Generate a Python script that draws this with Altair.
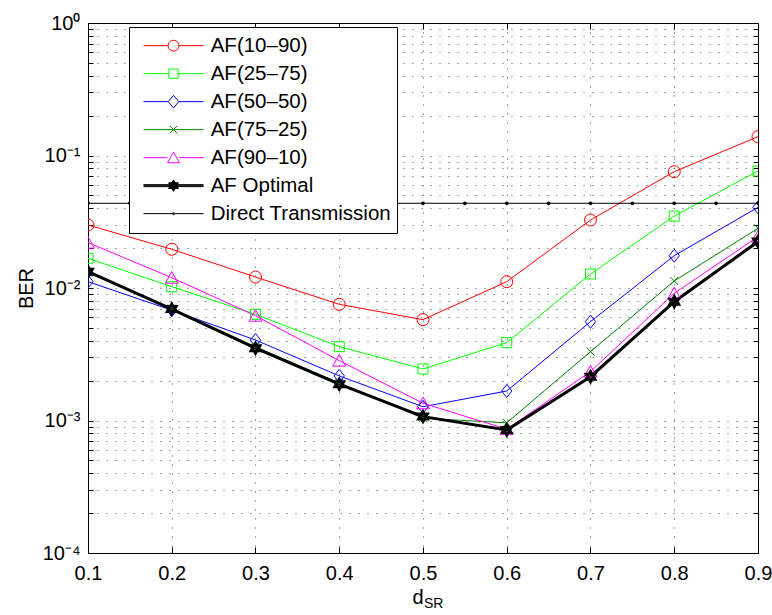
import math
import altair as alt
import pandas as pd

# ---------------- data ----------------
d_sr = [0.1, 0.2, 0.3, 0.4, 0.5, 0.6, 0.7, 0.8, 0.9]
af_10_90 = [0.0299, 0.0196, 0.0121, 0.00753, 0.00577, 0.01116, 0.0326, 0.0755, 0.1387]
af_25_75 = [0.01676, 0.01023, 0.00633, 0.00361, 0.00245, 0.00387, 0.01276, 0.0349, 0.0764]
af_50_50 = [0.01116, 0.0068, 0.00405, 0.00217, 0.00127, 0.00167, 0.00557, 0.01754, 0.0406]
af_75_25 = [0.0131, 0.0070, 0.0036, 0.00192, 0.00104, 0.00096, 0.00331, 0.0113, 0.0282]
af_90_10 = [0.0220, 0.01197, 0.00618, 0.00283, 0.00135, 0.00086, 0.00234, 0.00912, 0.0244]
af_optimal = [0.01328, 0.00694, 0.00351, 0.00188, 0.00107, 0.000848, 0.00214, 0.00788, 0.0224]
d_sr_direct = [0.1, 0.15, 0.2, 0.25, 0.3, 0.35, 0.4, 0.45, 0.5,
               0.55, 0.6, 0.65, 0.7, 0.75, 0.8, 0.85, 0.9]
direct = [0.0436, 0.0436, 0.0436, 0.0436, 0.0436, 0.0436, 0.0436, 0.0436, 0.0436,
          0.0436, 0.0436, 0.0436, 0.0436, 0.0436, 0.0436, 0.0436, 0.0436]

names = ["AF(10–90)", "AF(25–75)", "AF(50–50)", "AF(75–25)", "AF(90–10)",
         "AF Optimal", "Direct Transmission"]
x_ticks = [0.1, 0.2, 0.3, 0.4, 0.5, 0.6, 0.7, 0.8, 0.9]
y_decades = [1e-4, 1e-3, 1e-2, 1e-1, 1.0]
y_labels = ["10⁻⁴", "10⁻³", "10⁻²", "10⁻¹", "10⁰"]

rows = []
for name, vals in zip(names[:6], [af_10_90, af_25_75, af_50_50, af_75_25, af_90_10, af_optimal]):
    for x, v in zip(d_sr, vals):
        rows.append({"series": name, "d": x, "ber": v})
for x, v in zip(d_sr_direct, direct):
    rows.append({"series": names[6], "d": x, "ber": v})
df = pd.DataFrame(rows)

# ---------------- styles ----------------
FONT = "Liberation Sans"
colors = ["#ff0000", "#00ff00", "#0000ff", "#008000", "#ff00ff", "#000000", "#000000"]
line_w = [1, 1, 1, 1, 1, 3, 1]


def poly_circle(r, n=20):
    pts = []
    for i in range(n):
        a = 2 * math.pi * i / n
        pts.append(f"{r * math.cos(a):.4f},{r * math.sin(a):.4f}")
    return "M" + "L".join(pts) + "Z"


def hexa(s):
    return (f"M0,{-s:.4f}L{0.866 * s:.4f},{0.5 * s:.4f}L{-0.866 * s:.4f},{0.5 * s:.4f}Z"
            f"M0,{s:.4f}L{-0.866 * s:.4f},{-0.5 * s:.4f}L{0.866 * s:.4f},{-0.5 * s:.4f}Z")


marker_shapes = [
    "circle",
    "square",
    "M0,-1L0.8,0L0,1L-0.8,0Z",
    "M-1,-1L1,1M-1,1L1,-1",
    "M0,-0.95L1,0.85L-1,0.85Z",
    hexa(1.0),
    "circle",
]
marker_sizes = [144, 100, 169, 64, 169, 121, 3]
marker_sw = [1, 1, 1, 1, 1, 2.5, 2]


def legend_path(marker, gap):
    line = f"M-1,0L{-gap:.3f},0M{gap:.3f},0L1,0" if gap > 0 else "M-1,0L1,0"
    return line + marker


thick_line = "M-1,-0.0333L1,-0.0333M-1,0L1,0M-1,0.0333L1,0.0333"
legend_shapes = [
    legend_path(poly_circle(0.18), 0.18),
    legend_path("M-0.155,-0.155L0.155,-0.155L0.155,0.155L-0.155,0.155Z", 0.155),
    legend_path("M0,-0.21L0.175,0L0,0.21L-0.175,0Z", 0.175),
    legend_path("M-0.13,-0.13L0.13,0.13M-0.13,0.13L0.13,-0.13", 0),
    legend_path("M0,-0.19L0.2,0.17L-0.2,0.17Z", 0.2),
    thick_line + hexa(0.19) + hexa(0.16) + hexa(0.13) + hexa(0.10) + hexa(0.07),
    legend_path(poly_circle(0.035, 10), 0),
]

x_scale = alt.Scale(domain=[0.1, 0.9], nice=False, zero=False)
y_scale = alt.Scale(type="log", domain=[1e-4, 1], nice=False)

y_minor = []
for k in range(-4, 0):
    for m in range(1, 10):
        y_minor.append(m * 10 ** k)
y_minor.append(1.0)

label_expr = " : ".join(
    f"abs(datum.value - {v}) < {v * 1e-6} ? '{l}'" for v, l in zip(y_decades, y_labels)
) + " : ''"

x_axis = alt.Axis(
    values=x_ticks, format=".1f", grid=True, gridDash=[1, 8], gridColor="black",
    gridOpacity=0.7, tickSize=0, domain=False, labelPadding=10.5, labelFlush=False,
    labelFontSize=20, labelFont=FONT, labelColor="black",
    title="d", titleFont=FONT, titleFontSize=20, titleFontWeight="normal",
    titleColor="black", titleAlign="left", titleAnchor="start",
    titleX=324, titleY=50, titleBaseline="alphabetic",
)
y_axis = alt.Axis(
    values=y_minor, labelExpr=label_expr, grid=True, gridDash=[1, 8],
    gridColor="black", gridOpacity=0.7, tickSize=0, domain=False,
    labelPadding=8, labelFlush=False, labelFontSize=20, labelFont=FONT,
    labelColor="black", labelOverlap=False,
    title="BER", titleFont=FONT, titleFontSize=20, titleFontWeight="normal",
    titleColor="black", titleX=-56, titleY=265, titleAngle=-90,
    titleBaseline="alphabetic", titleAlign="center",
)


def tick_axis(orient, values, size):
    return alt.Axis(orient=orient, offset=-size, tickSize=size, values=values,
                    labels=False, domain=False, grid=False, title=None,
                    ticks=True, tickColor="black", tickWidth=1)


def cat_scale(rng):
    return alt.Scale(type="ordinal", domain=names, range=rng)


base = alt.Chart(df)

lines = base.mark_line(clip=True).encode(
    x=alt.X("d:Q", scale=x_scale, axis=x_axis),
    y=alt.Y("ber:Q", scale=y_scale, axis=y_axis),
    color=alt.Color("series:N", scale=alt.Scale(domain=names, range=colors), legend=None),
    strokeWidth=alt.StrokeWidth("series:N", scale=cat_scale(line_w), legend=None),
    order=alt.Order("d:Q"),
)

points = base.mark_point(filled=False, opacity=1, clip=True).encode(
    x=alt.X("d:Q", scale=x_scale, axis=None),
    y=alt.Y("ber:Q", scale=y_scale, axis=None),
    color=alt.Color("series:N", scale=alt.Scale(domain=names, range=colors), legend=None),
    shape=alt.Shape("series:N", scale=alt.Scale(domain=names, range=marker_shapes), legend=None),
    size=alt.Size("series:N", scale=cat_scale(marker_sizes), legend=None),
    strokeWidth=alt.StrokeWidth("series:N", scale=cat_scale(marker_sw), legend=None),
)

leg = alt.Legend(
    title=None, orient="none", legendX=41, legendY=4, direction="vertical",
    symbolSize=3600, clipHeight=27.3, rowPadding=0, padding=5,
    symbolOffset=9, labelOffset=6.7, labelFontSize=20.5, labelFont=FONT,
    labelColor="black", labelLimit=400, strokeColor="black", fillColor="white",
    cornerRadius=0, symbolOpacity=1, symbolFillColor="transparent",
    symbolStrokeWidth=1,
)

legend_layer = base.mark_point(filled=False, opacity=1).encode(
    x=alt.X("d:Q", scale=x_scale, axis=None),
    y=alt.Y("ber:Q", scale=y_scale, axis=None),
    color=alt.Color("series:N", scale=alt.Scale(domain=names, range=colors), legend=leg),
    shape=alt.Shape("series:N", scale=alt.Scale(domain=names, range=legend_shapes), legend=leg),
).transform_filter("datum.d < 0")

# inward tick marks on all four sides (MATLAB box style)
hidden = base.mark_point(opacity=0)
ticks_left = hidden.encode(x=alt.X("d:Q", scale=x_scale, axis=None),
                           y=alt.Y("ber:Q", scale=y_scale, axis=tick_axis("left", y_minor, 5)))
ticks_right = hidden.encode(x=alt.X("d:Q", scale=x_scale, axis=None),
                            y=alt.Y("ber:Q", scale=y_scale, axis=tick_axis("right", y_minor, 5)))
ticks_bottom = hidden.encode(x=alt.X("d:Q", scale=x_scale, axis=tick_axis("bottom", x_ticks, 6)),
                             y=alt.Y("ber:Q", scale=y_scale, axis=None))
ticks_top = hidden.encode(x=alt.X("d:Q", scale=x_scale, axis=tick_axis("top", x_ticks, 6)),
                          y=alt.Y("ber:Q", scale=y_scale, axis=None))

sub = alt.Chart(pd.DataFrame({"t": ["SR"]})).mark_text(
    align="left", baseline="alphabetic", fontSize=14, font=FONT, color="black"
).encode(text="t:N", x=alt.value(336), y=alt.value(585))

chart = alt.layer(
    lines, points, ticks_left, ticks_right, ticks_bottom, ticks_top, legend_layer, sub
).resolve_scale(
    color="independent", shape="independent", strokeWidth="independent", size="independent"
).resolve_axis(x="independent", y="independent").properties(
    width=670, height=530,
    autosize=alt.AutoSizeParams(type="none"),
    padding={"left": 88, "top": 23, "right": 14, "bottom": 62},
    background="white",
).configure_view(stroke="black", strokeWidth=1)

chart.save("out.html", embed_options={"renderer": "svg", "actions": False})
